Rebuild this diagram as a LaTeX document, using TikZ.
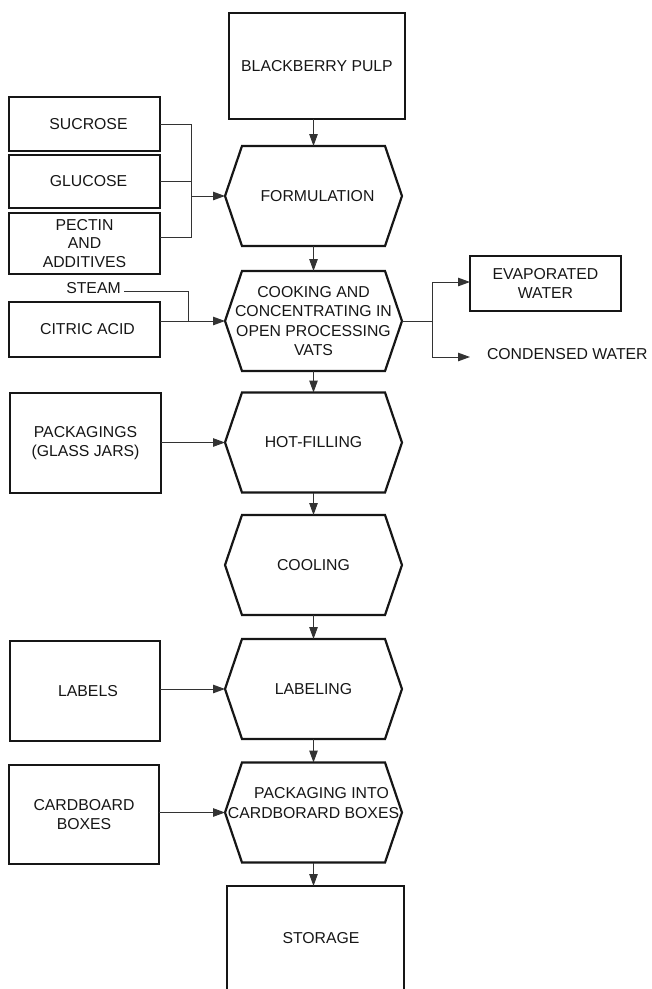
\documentclass[tikz,border=0pt]{standalone}
\usepackage{fontspec}
\setmainfont{Liberation Sans}
\usetikzlibrary{arrows.meta,calc}
\definecolor{ink}{HTML}{161616}
\definecolor{wire}{HTML}{333333}
\newcommand{\hexdraw}[1]{\draw[hexline] ([xshift=17pt]#1.north west) -- ([xshift=-17pt]#1.north east) -- (#1.east) -- ([xshift=-17pt]#1.south east) -- ([xshift=17pt]#1.south west) -- (#1.west) -- cycle;}
\begin{document}
\begin{tikzpicture}[x=1pt,y=-1pt,
 every node/.style={font=\fontsize{15.8}{19.3}\selectfont, text=ink, inner sep=0pt, outer sep=0pt},
 box/.style={draw=ink, line width=2pt, minimum width=151pt, align=center},
 hexbase/.style={minimum width=177pt, minimum height=100pt, align=center},
 conn/.style={draw=wire, line width=1pt},
 arr/.style={conn, -{Triangle[length=12pt,width=8.5pt]}},
 hexline/.style={draw=ink, line width=2.2pt, line join=miter}
]
\useasboundingbox (0,0) rectangle (652,989);
\clip (0,0) rectangle (652,989);

% main column
\node[box, minimum width=176pt, minimum height=106pt] (pulp) at (317,66) {BLACKBERRY PULP};
\node[hexbase] (form) at (313.5,196) {\hspace*{8pt}FORMULATION};
\node[hexbase] (cook) at (313.5,321) {COOKING AND\\CONCENTRATING IN\\OPEN PROCESSING\\VATS};
\node[hexbase] (hot) at (313.5,442.5) {HOT-FILLING};
\node[hexbase] (cool) at (313.5,565) {COOLING};
\node[hexbase] (labg) at (313.5,689) {LABELING};
\node[hexbase] (packh) at (313.5,812.5) {};
\node (packtxt) at (313.5,803) [align=center] {\hspace*{16pt}PACKAGING INTO\\CARDBORARD BOXES};
\node[box, minimum width=177pt, minimum height=130pt, anchor=north] (sto) at (315.5,886) {};
\node (stotxt) at (321,938) {STORAGE};

\hexdraw{form}
\hexdraw{cook}
\hexdraw{hot}
\hexdraw{cool}
\hexdraw{labg}
\hexdraw{packh}

% left inputs
\node[box, minimum height=54pt] (suc) at (84.5,124) {\hspace*{8pt}SUCROSE};
\node[box, minimum height=53pt] (glu) at (84.5,181.5) {\hspace*{8pt}GLUCOSE};
\node[box, minimum height=61pt, line width=2.7pt, font=\fontsize{15.8}{18.5}\selectfont] (pec) at (84.5,243.5) {PECTIN\\AND\\ADDITIVES};
\node (steam) at (93.5,288) {STEAM};
\node[box, minimum height=55pt] (cit) at (84.5,329.5) {\hspace*{6pt}CITRIC ACID};
\node[box, minimum height=100pt] (pkg) at (85.5,443) {PACKAGINGS\\(GLASS JARS)};
\node[box, minimum width=150pt, minimum height=100pt] (lab) at (85,691) {\hspace*{6pt}LABELS};
\node[box, minimum width=150pt, minimum height=99pt] (cb) at (84,814.5) {CARDBOARD\\BOXES};

% right outputs
\node[box, minimum height=55pt] (evap) at (545.5,283.5) {EVAPORATED\\WATER};
\node[anchor=west] (cond) at (487,354) {CONDENSED WATER};
\coordinate (ce) at (470,357);

% connectors: merge into formulation
\coordinate (jn) at (191,196);
\draw[conn] (suc.east) -| (jn);
\draw[conn] ([yshift=6.5pt]pec.east) -| (jn);
\draw[conn] (glu.east) -- (glu.east -| jn);
\draw[arr] (jn) -- (form.west);

% steam and citric acid
\coordinate (jn2) at (188,321);
\draw[conn] ([xshift=3.5pt,yshift=-3pt]steam.east) -| (jn2);
\draw[arr] (cit.east |- cook.west) -- (cook.west);

% outputs of cooking
\coordinate (rj) at (432,321);
\draw[conn] (cook.east) -- (rj);
\draw[arr] (rj) |- ([yshift=1.5pt]evap.west);
\draw[arr] (rj) |- (ce);

% side inputs
\draw[arr] (pkg.east |- hot.west) -- (hot.west);
\draw[arr] (lab.east |- labg.west) -- (labg.west);
\draw[arr] (cb.east |- packh.west) -- (packh.west);

% main flow
\draw[arr] (pulp.south -| form.north) -- (form.north);
\draw[arr] (form.south) -- (cook.north);
\draw[arr] (cook.south) -- (hot.north);
\draw[arr] (hot.south) -- (cool.north);
\draw[arr] (cool.south) -- (labg.north);
\draw[arr] (labg.south) -- (packh.north);
\draw[arr] (packh.south) -- (packh.south |- sto.north);
\end{tikzpicture}
\end{document}
